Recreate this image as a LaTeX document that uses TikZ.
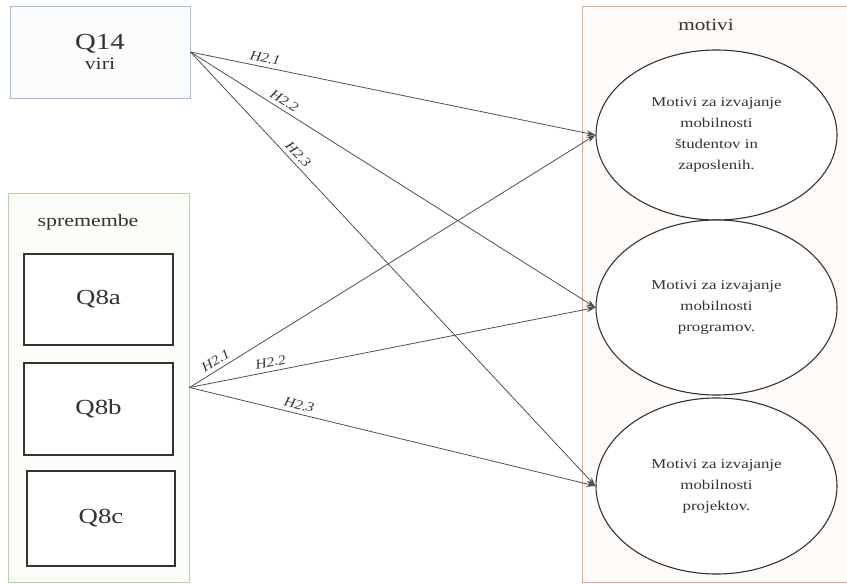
\documentclass[tikz,border=0pt]{standalone}
\usepackage{fontspec}
\setmainfont{Liberation Serif}[FakeStretch=1.25]
\newfontfamily\labfont{Liberation Serif}[FakeStretch=1.15]
\usetikzlibrary{arrows.meta,shapes.geometric}
\definecolor{txt}{HTML}{333333}
\definecolor{blueb}{HTML}{A3BCDC}
\definecolor{greenb}{HTML}{B5D49F}
\definecolor{orangeb}{HTML}{E2AD92}
\definecolor{bluef}{HTML}{FAFCFE}
\definecolor{greenf}{HTML}{FBFDF9}
\definecolor{orangef}{HTML}{FFFBF8}
\definecolor{linec}{HTML}{505050}
\tikzset{
  grpbox/.style={draw, line width=1pt, inner sep=0pt},
  qbox/.style={draw=txt, line width=1.1pt, inner sep=0pt, fill=white, text=txt, font=\fontsize{21.5}{24}\selectfont},
  motell/.style={ellipse, draw=txt, line width=1.1pt, inner sep=0pt, fill=white, minimum width=241pt, text=txt, align=center, font=\fontsize{13.5}{21}\selectfont},
  hyp/.style={-{Stealth[length=9pt,width=6pt]}, draw=linec, line width=0.8pt},
  hlab/.style={sloped, above=4pt, inner sep=0pt, text=txt, font=\labfont\itshape\fontsize{13.5}{15}\selectfont}
}
\begin{document}
\begin{tikzpicture}[x=1pt,y=-1pt]
\useasboundingbox (0,0) rectangle (847,584);
% containers
\node[grpbox, draw=blueb, fill=bluef, minimum width=180pt, minimum height=92pt, text=txt, align=center] (q14) at (100,52)
  {\fontsize{23}{23}\selectfont Q14\\[4pt]\fontsize{17.5}{17.5}\selectfont viri};
\node[grpbox, draw=greenb, fill=greenf, minimum width=181pt, minimum height=389pt] (spr) at (98.5,387.5) {};
\node[text=txt, font=\fontsize{17.5}{20}\selectfont] (sprt) at (88,222) {spremembe};
\node[grpbox, draw=orangeb, fill=orangef, minimum width=280pt, minimum height=576pt] (mot) at (722,294) {};
\node[text=txt, font=\fontsize{17}{20}\selectfont] (mott) at (706,25) {motivi};
% inner boxes
\node[qbox, minimum width=149pt, minimum height=91pt] (q8a) at (98.5,299.5) {Q8a};
\node[qbox, minimum width=149pt, minimum height=92pt] (q8b) at (98.5,409) {Q8b};
\node[qbox, minimum width=148pt, minimum height=95pt] (q8c) at (101,518.5) {Q8c};
% ellipses
\node[motell, minimum height=170pt] (e1) at (716.5,135) {Motivi za izvajanje\\mobilnosti\\študentov in\\zaposlenih.};
\node[motell, minimum height=175pt] (e2) at (716.5,307.5) {Motivi za izvajanje\\mobilnosti\\programov.};
\node[motell, minimum height=176pt] (e3) at (716.5,486) {Motivi za izvajanje\\mobilnosti\\projektov.};
% connectors
\draw[hyp] (q14.east) -- node[hlab, pos=0.18] {H2.1} (e1.west);
\draw[hyp] (q14.east) -- node[hlab, pos=0.22] {H2.2} (e2.west);
\draw[hyp] (q14.east) -- node[hlab, pos=0.25] {H2.3} (e3.west);
\draw[hyp] (spr.east) -- node[hlab, pos=0.076] {H2.1} (e1.west);
\draw[hyp] (spr.east) -- node[hlab, pos=0.204] {H2.2} (e2.west);
\draw[hyp] (spr.east) -- node[hlab, pos=0.265] {H2.3} (e3.west);
\end{tikzpicture}
\end{document}
